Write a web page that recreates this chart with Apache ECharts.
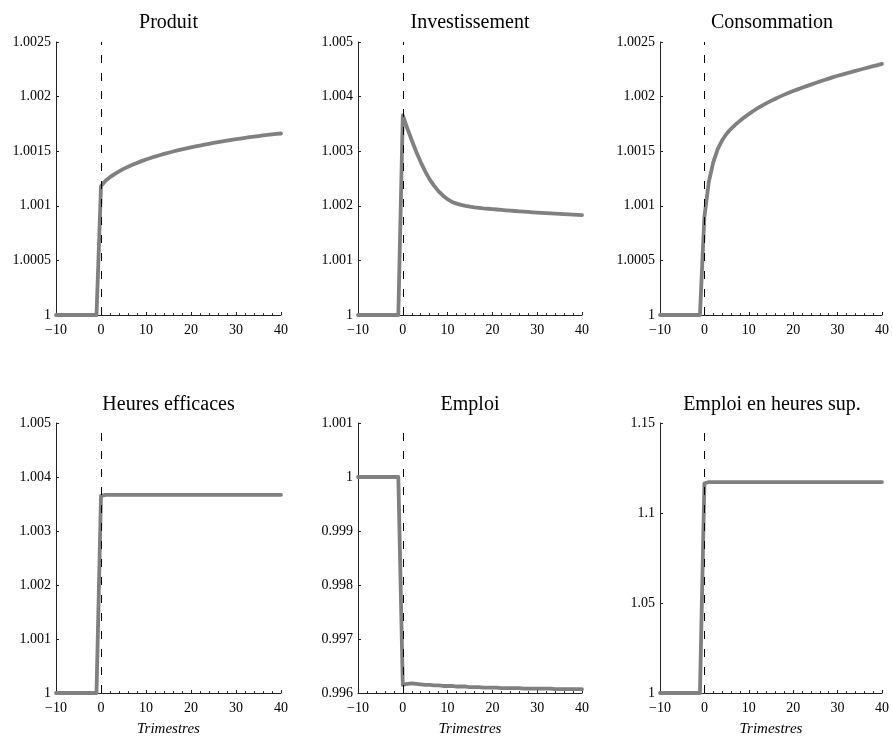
<!DOCTYPE html>
<html>
<head>
<meta charset="utf-8">
<script src="https://cdn.jsdelivr.net/npm/echarts@6/dist/echarts.min.js"></script>
<style>
html,body{margin:0;padding:0;background:#fff;}
#chart{width:892px;height:738px;}
</style>
</head>
<body>
<div id="chart"></div>
<script>
var quarters = [-10,-9,-8,-7,-6,-5,-4,-3,-2,-1,0,1,2,3,4,5,6,7,8,9,10,11,12,13,14,15,16,17,18,19,20,21,22,23,24,25,26,27,28,29,30,31,32,33,34,35,36,37,38,39,40];
var titles = ["Produit","Investissement","Consommation","Heures efficaces","Emploi","Emploi en heures sup."];
var xTicks = [-10,0,10,20,30,40];

var produit = [1,1,1,1,1,1,1,1,1,1,
  1.00118,1.00123,1.001262,1.00129,1.001315,1.001338,1.001358,1.001376,1.001393,1.001409,
  1.001424,1.001438,1.001451,1.001463,1.001475,1.001486,1.001497,1.001507,1.001517,1.001526,
  1.001535,1.001544,1.001552,1.00156,1.001568,1.001576,1.001583,1.00159,1.001597,1.001604,
  1.00161,1.001616,1.001622,1.001628,1.001634,1.001639,1.001644,1.001649,1.001654,1.001658,1.001662];
var investissement = [1,1,1,1,1,1,1,1,1,1,
  1.00366,1.00342,1.0032,1.00299,1.0028,1.00263,1.002485,1.002365,1.002265,1.002185,
  1.00212,1.00207,1.00204,1.002018,1.002,1.001985,1.001972,1.001962,1.001953,1.001946,
  1.00194,1.001932,1.001925,1.001918,1.001911,1.001905,1.001899,1.001893,1.001887,1.001881,
  1.001876,1.001871,1.001866,1.001861,1.001856,1.001851,1.001846,1.001842,1.001838,1.001834,1.00183];
var consommation = [1,1,1,1,1,1,1,1,1,1,
  1.0009,1.00122,1.0014,1.00152,1.0016,1.00166,1.001705,1.001744,1.001778,1.00181,
  1.00184,1.001868,1.001894,1.001918,1.00194,1.001961,1.001981,1.002,1.002018,1.002035,
  1.002051,1.002066,1.002081,1.002096,1.00211,1.002124,1.002138,1.002152,1.002165,1.002178,
  1.002191,1.002202,1.002213,1.002224,1.002235,1.002246,1.002257,1.002268,1.002279,1.002289,1.002299];
var heuresEfficaces = [1,1,1,1,1,1,1,1,1,1,
  1.00365,1.00367,1.00367,1.00367,1.00367,1.00367,1.00367,1.00367,1.00367,1.00367,
  1.00367,1.00367,1.00367,1.00367,1.00367,1.00367,1.00367,1.00367,1.00367,1.00367,
  1.00367,1.00367,1.00367,1.00367,1.00367,1.00367,1.00367,1.00367,1.00367,1.00367,
  1.00367,1.00367,1.00367,1.00367,1.00367,1.00367,1.00367,1.00367,1.00367,1.00367,1.00367];
var emploi = [1,1,1,1,1,1,1,1,1,1,
  0.99615,0.99617,0.99618,0.99617,0.99616,0.99615,0.99615,0.99614,0.99614,0.99613,
  0.99613,0.99613,0.99612,0.99612,0.99612,0.99611,0.99611,0.99611,0.9961,0.9961,
  0.9961,0.9961,0.99609,0.99609,0.99609,0.99609,0.99609,0.99608,0.99608,0.99608,
  0.99608,0.99608,0.99608,0.99608,0.99607,0.99607,0.99607,0.99607,0.99607,0.99607,0.99607];
var emploiHeuresSup = [1,1,1,1,1,1,1,1,1,1,
  1.1165,1.1172,1.1172,1.1172,1.1172,1.1172,1.1172,1.1172,1.1172,1.1172,
  1.1172,1.1172,1.1172,1.1172,1.1172,1.1172,1.1172,1.1172,1.1172,1.1172,
  1.1172,1.1172,1.1172,1.1172,1.1172,1.1172,1.1172,1.1172,1.1172,1.1172,
  1.1172,1.1172,1.1172,1.1172,1.1172,1.1172,1.1172,1.1172,1.1172,1.1172,1.1172];

var yTicks1 = [1,1.0005,1.001,1.0015,1.002,1.0025];
var yTicks2 = [1,1.001,1.002,1.003,1.004,1.005];
var yTicks3 = [1,1.0005,1.001,1.0015,1.002,1.0025];
var yTicks4 = [1,1.001,1.002,1.003,1.004,1.005];
var yTicks5 = [0.996,0.997,0.998,0.999,1,1.001];
var yTicks6 = [1,1.05,1.1,1.15];

var seriesData = [produit,investissement,consommation,heuresEfficaces,emploi,emploiHeuresSup];
var yTickSets = [yTicks1,yTicks2,yTicks3,yTicks4,yTicks5,yTicks6];

var FONT = "'Liberation Serif','Times New Roman',serif";
var lefts = [56,358,660];
var widths = [225,224,224];
var tops = [42,423];
var heights = [273,274.5];

var grids=[],xAxes=[],yAxes=[],series=[],graphics=[];
for (var i=0;i<6;i++){
  var r=Math.floor(i/3), c=i%3;
  grids.push({left:lefts[c],top:tops[r],width:widths[c],height:heights[r],containLabel:false});
  var yt=yTickSets[i];
  var ymin=yt[0], ymax=yt[yt.length-1];
  var yint=parseFloat((yt[1]-yt[0]).toFixed(6));
  xAxes.push({
    type:'value',gridIndex:i,min:xTicks[0],max:xTicks[xTicks.length-1],interval:10,
    axisLine:{onZero:false,lineStyle:{color:'#222',width:1}},
    axisTick:{show:true,inside:true,length:3,lineStyle:{color:'#222',width:1}},
    minorTick:{show:true,splitNumber:5,length:1.8,lineStyle:{color:'#222',width:1}},
    splitLine:{show:false},
    axisLabel:{color:'#000',fontFamily:FONT,fontSize:14,margin:8.5,
      formatter:function(v){return v<0?'\u2212'+Math.abs(v):String(v);}},
    name: r===1?'Trimestres':'',
    nameLocation:'middle',nameGap:29,
    nameTextStyle:{fontFamily:FONT,fontStyle:'italic',fontSize:15,color:'#000'}
  });
  yAxes.push({
    type:'value',gridIndex:i,min:ymin,max:ymax,interval:yint,
    axisLine:{show:true,onZero:false,lineStyle:{color:'#222',width:1}},
    axisTick:{show:true,inside:true,length:3,lineStyle:{color:'#222',width:1}},
    splitLine:{show:false},
    axisLabel:{color:'#000',fontFamily:FONT,fontSize:14,margin:5,
      formatter:function(v){return String(parseFloat(v.toFixed(6)));}}
  });
  var pts=[];
  for (var k=0;k<quarters.length;k++) pts.push([quarters[k],seriesData[i][k]]);
  series.push({
    type:'line',xAxisIndex:i,yAxisIndex:i,data:pts,showSymbol:false,symbol:'none',
    lineStyle:{color:'#808080',width:3.8,join:'round',cap:'round'},z:2,animation:false,silent:true,
    markLine:{silent:true,symbol:['none','none'],label:{show:false},animation:false,z:5,
      lineStyle:{color:'#000',width:1,type:[8,10]},data:[{xAxis:0}]}
  });
  graphics.push({type:'text',x:lefts[c]+widths[c]/2,y:(r===0?23:405),
    style:{text:titles[i],fill:'#000',font:'20px '+FONT,textAlign:'center',textVerticalAlign:'middle'}});
}

var chart=echarts.init(document.getElementById('chart'),null,{renderer:'canvas'});
chart.setOption({
  animation:false,
  backgroundColor:'#fff',
  grid:grids,xAxis:xAxes,yAxis:yAxes,series:series,graphic:graphics
});
</script>
</body>
</html>
